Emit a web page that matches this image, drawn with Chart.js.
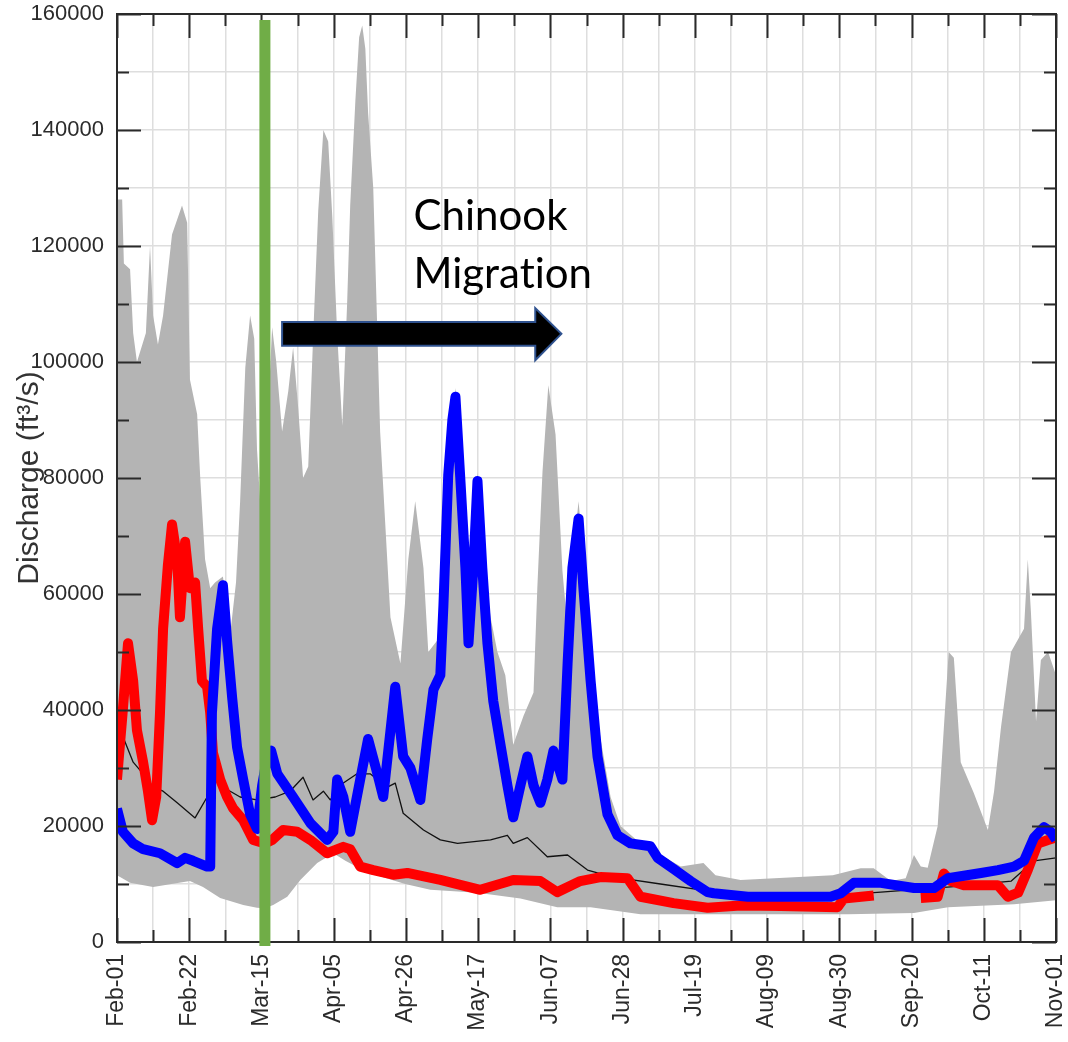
<!DOCTYPE html>
<html>
<head>
<meta charset="utf-8">
<script src="https://cdn.jsdelivr.net/npm/chart.js@4.4.1/dist/chart.umd.min.js"></script>
<style>
  html, body { margin: 0; padding: 0; background: #fff; }
</style>
</head>
<body>
<canvas id="c" width="1068" height="1042"></canvas>
<script>
// x values are days since Feb-01, flows in ft3/s
const dateLabels = ['Feb-01', 'Feb-22', 'Mar-15', 'Apr-05', 'Apr-26', 'May-17', 'Jun-07',
                    'Jun-28', 'Jul-19', 'Aug-09', 'Aug-30', 'Sep-20', 'Oct-11', 'Nov-01'];

const maxDays = [0, 1.5, 2, 3.8, 4.7, 5.8, 8.4, 9.6, 10.5, 11.9,
  13.4, 16, 18.9, 20.4, 21.2, 23.3, 24.2, 25.6, 27.1, 28.5,
  30.8, 32.9, 34.6, 35.8, 37.3, 38.7, 39.9, 40.7, 42.2, 45.1,
  46.3, 48, 49.8, 51.2, 52.7, 54.1, 55.6, 57, 58.5, 60,
  61.4, 62.6, 64, 65.5, 66.9, 67.8, 69.3, 70.4, 71.3, 72.2,
  73, 74.5, 75.7, 76.5, 78, 79.5, 82.4, 84.7, 86.7, 89.1,
  90.5, 93.1, 94.9, 96.3, 97.5, 98.4, 99.8, 101.3, 102.7, 104.8,
  106.2, 108.6, 110.6, 112.9, 115.2, 118.2, 121.1, 122.2, 123.7, 125.4,
  127.5, 129.5, 131, 132.4, 134.2, 136.2, 138.2, 140.6, 143.5, 146.4,
  152.2, 158, 163.9, 170.5, 174, 181.3, 208.1, 216.2, 220, 225,
  229.3, 231.7, 233.7, 235.7, 238.6, 240.4, 241.8, 243.3, 245.3, 249.1,
  253.2, 255, 257, 259.9, 263.7, 264.8, 265.7, 267.2, 268.6, 270.7, 273];
const maxFlow = [128000, 128000, 117000, 116000, 105000, 100000, 105000, 120000, 108000, 103000,
  108000, 122000, 127000, 124000, 97000, 91000, 80000, 66000, 61000, 62000,
  63000, 53000, 62000, 76000, 99000, 108000, 104000, 85000, 70000, 106000,
  100000, 88000, 95000, 102500, 92000, 80000, 82000, 104000, 126000, 140000,
  138000, 125000, 105000, 89000, 110000, 127000, 145000, 156000, 158000, 154000,
  143000, 130000, 105000, 88000, 72000, 56000, 48000, 66000, 76000, 64500,
  50000, 52000, 62000, 82000, 91000, 95500, 82000, 66000, 62000, 81000,
  68000, 56000, 50000, 46000, 34000, 39000, 43000, 61000, 81000, 96000,
  87500, 64000, 54000, 66000, 76000, 62000, 46000, 35000, 25000, 20000,
  17000, 15000, 13000, 13600, 11500, 10700, 11500, 12700, 12700, 10500,
  11000, 15000, 13000, 12800, 20000, 37000, 50000, 49000, 31000, 25700,
  19300, 26000, 37000, 50000, 54000, 66000, 57000, 38000, 48600, 50000, 46000];

const minDays = [0, 3.8, 10.5, 21.2, 25, 30, 36.7, 40.7, 43, 45.4,
  49.5, 53.3, 58.2, 62.9, 66.4, 72.8, 83.8, 91.1, 104.8, 117.3,
  128, 137.7, 152.2, 175.5, 212.5, 231.7, 241.6, 260.8, 273];
const minFlow = [11500, 10200, 9500, 10500, 9500, 7600, 6400, 5900, 5800, 6400,
  7800, 10700, 13600, 15300, 14000, 12000, 10000, 9000, 8500, 7500,
  6000, 6000, 4800, 4800, 4800, 5000, 6000, 6500, 7200];

const medianDays = [0, 2, 4.7, 7.6, 10.5, 13.4, 17.5, 22.7, 26.2, 27.9,
  31.4, 35.8, 40.7, 46, 50.3, 54.1, 57, 60, 62, 65.8,
  69.8, 73.6, 78.6, 80.9, 83.2, 89.1, 94, 99, 108.6, 113.5,
  115.2, 119.3, 125.1, 131, 136.8, 139.7, 146.4, 158, 169.7, 187.1,
  207.5, 222.1, 242.4, 260, 266.6, 273];
const medianFlow = [30000, 35000, 31000, 29000, 26700, 26000, 24000, 21400, 25000, 28400,
  26500, 25000, 24500, 25000, 26000, 28400, 24500, 26000, 24500, 27400,
  29000, 29000, 26700, 27400, 22200, 19300, 17600, 17000, 17600, 18400,
  17000, 18000, 14700, 15000, 12400, 11900, 11000, 10000, 9000, 8000,
  8000, 8600, 9500, 10500, 14000, 14500];

const redDays = [0, 1.7, 3.2, 4.7, 5.8, 7.6, 9, 10.2, 11.4, 12.5,
  13.4, 14.8, 16, 17.5, 18.3, 19.8, 21.2, 22.7, 23.6, 24.7,
  26.2, 27.1, 27.9, 30, 32, 33.8, 36.7, 39.6, 43, 45.1,
  48.3, 52.4, 56.2, 61.1, 65.8, 67.8, 70.7, 74.5, 80.3, 84.4,
  94, 105.6, 115.2, 123.1, 128, 134.7, 140.6, 148.4, 152.2, 161.8,
  171.7, 181.3, 193, 209.5, 211.3, 220, 226, 233.7, 238.6, 240.4,
  242.4, 246.2, 256.1, 259, 262, 264.8, 267.7, 270.7, 273];
const redFlow = [28000, 40000, 51500, 45000, 36500, 31000, 26000, 21000, 25000, 39500,
  54000, 65000, 72000, 66000, 56000, 69000, 61000, 62000, 54000, 45000,
  44000, 39500, 32600, 28000, 25000, 23000, 21000, 17600, 17000, 17600,
  19300, 19000, 17600, 15300, 16400, 16000, 13000, 12400, 11600, 11900,
  10700, 9000, 10700, 10500, 8600, 10500, 11200, 11000, 7800, 6700,
  5900, 6300, 6200, 6000, 7500, 8000, null, 7600, 7800, 11800,
  10500, 9800, 9800, 7800, 8500, 12400, 17000, 17600, 18000];

const blueDays = [0, 1.7, 4.7, 7.6, 12.5, 17.5, 19.8, 22.1, 26.2, 27.1,
  27.6, 29.1, 30.8, 32, 33.5, 34.9, 36.7, 38.7, 40.7, 42.2,
  43.4, 44.8, 46.6, 51.2, 56.2, 61.1, 62.9, 64, 65.8, 67.8,
  70.7, 73, 75.7, 77.4, 80.9, 83.2, 85.3, 88.2, 90.2, 92,
  94, 94.9, 96.3, 97.5, 98.4, 99.8, 101.3, 102.2, 103.6, 104.8,
  106.2, 107.7, 109.4, 111.5, 113.5, 115.2, 117.3, 119.3, 121.1, 123.1,
  125.1, 126.9, 129.5, 131, 132.4, 134.2, 135.6, 137.7, 139.7, 142.6,
  145.5, 149.3, 155.1, 157.2, 161.8, 166.8, 171.7, 173.5, 183.4, 207.5,
  210.4, 214.2, 222.1, 231.7, 237.5, 241.6, 251.2, 256.1, 260.8, 263.7,
  266.6, 269.5, 271.5, 273];
const blueFlow = [23000, 19000, 17000, 16000, 15300, 13600, 14500, 14000, 13000, 13000,
  39500, 54000, 61500, 52000, 42000, 33600, 28000, 22000, 19500, 27000,
  31000, 33000, 29000, 25000, 20500, 17600, 19000, 28000, 25000, 19000,
  28000, 35000, 29000, 25000, 44000, 32000, 30000, 24500, 35000, 43500,
  46000, 58000, 80500, 90000, 94000, 80000, 64500, 51500, 64500, 79500,
  64500, 51500, 41500, 34000, 27000, 21500, 27000, 32000, 27000, 24000,
  28000, 33000, 28000, 48000, 64500, 73000, 61000, 45000, 32000, 22000,
  18400, 17000, 16500, 14500, 12600, 10500, 8600, 8400, 7800, 7800,
  8400, 10200, 10200, 9300, 9300, 11000, 11900, 12400, 13000, 14000,
  18000, 19800, 19000, 17600];

function pairs(days, flows) {
    return days.map((d, i) => ({x: d, y: flows[i]}));
}

// annotation placement (in data units)
const greenDay = 43;
const arrow = {x0: 48, xHead: 121.6, xTip: 129.2, shaftTop: 106900, shaftBottom: 102800,
               headTop: 109300, headBottom: 100300};
const label = {x: 86.2, line1: 122800, line2: 112800};

const overlay = {
    id: 'overlay',
    afterDatasetsDraw(chart) {
        const {ctx, chartArea: a, scales} = chart;
        const xs = scales.x, ys = scales.y;
        ctx.save();

        // inward ticks on all four sides + frame
        ctx.strokeStyle = '#2a2a2a';
        ctx.lineWidth = 2;
        ctx.beginPath();
        ys.ticks.forEach(t => {
            const py = Math.round(ys.getPixelForValue(t.value)) + 0.5;
            const len = t.value % 20000 === 0 ? 24 : 12;
            ctx.moveTo(a.left, py); ctx.lineTo(a.left + len, py);
            ctx.moveTo(a.right, py); ctx.lineTo(a.right - len, py);
        });
        xs.ticks.forEach((t, i) => {
            const px = Math.round(xs.getPixelForValue(t.value)) + 0.5;
            const len = i % 2 === 0 ? 24 : 12;
            ctx.moveTo(px, a.top); ctx.lineTo(px, a.top + len);
            ctx.moveTo(px, a.bottom); ctx.lineTo(px, a.bottom - len);
        });
        ctx.stroke();
        ctx.strokeRect(a.left, a.top, a.right - a.left, a.bottom - a.top);

        // green marker
        const gx = xs.getPixelForValue(greenDay);
        ctx.fillStyle = '#70ad47';
        ctx.fillRect(gx - 5.5, a.top + 6, 11, a.bottom - a.top - 2);

        // migration arrow
        const X = v => xs.getPixelForValue(v), Y = v => ys.getPixelForValue(v);
        const midY = (Y(arrow.shaftTop) + Y(arrow.shaftBottom)) / 2;
        ctx.beginPath();
        ctx.moveTo(X(arrow.x0), Y(arrow.shaftTop));
        ctx.lineTo(X(arrow.xHead), Y(arrow.shaftTop));
        ctx.lineTo(X(arrow.xHead), Y(arrow.headTop));
        ctx.lineTo(X(arrow.xTip), midY);
        ctx.lineTo(X(arrow.xHead), Y(arrow.headBottom));
        ctx.lineTo(X(arrow.xHead), Y(arrow.shaftBottom));
        ctx.lineTo(X(arrow.x0), Y(arrow.shaftBottom));
        ctx.closePath();
        ctx.fillStyle = '#000';
        ctx.fill();
        ctx.strokeStyle = '#2f528f';
        ctx.lineWidth = 2;
        ctx.stroke();

        ctx.fillStyle = '#000';
        ctx.font = '42px Lato, "Open Sans", sans-serif';
        ctx.textAlign = 'left';
        ctx.textBaseline = 'alphabetic';
        ctx.fillText('Chinook', X(label.x), Y(label.line1));
        ctx.fillText('Migrat\u200Cion', X(label.x), Y(label.line2));
        ctx.restore();
    }
};

const lineStyle = {pointRadius: 0, tension: 0, fill: false, borderJoinStyle: 'round'};

new Chart(document.getElementById('c'), {
    type: 'line',
    data: {
        datasets: [
            Object.assign({label: 'blue', data: pairs(blueDays, blueFlow),
                borderColor: '#0000ff', borderWidth: 10}, lineStyle),
            Object.assign({label: 'red', data: pairs(redDays, redFlow),
                borderColor: '#ff0000', borderWidth: 10, spanGaps: false}, lineStyle),
            Object.assign({label: 'median', data: pairs(medianDays, medianFlow),
                borderColor: '#111', borderWidth: 1.3}, lineStyle),
            {label: 'max', data: pairs(maxDays, maxFlow), pointRadius: 0, tension: 0,
                borderWidth: 0, borderColor: 'rgba(0,0,0,0)', backgroundColor: '#b4b4b4', fill: '+1'},
            {label: 'min', data: pairs(minDays, minFlow), pointRadius: 0, tension: 0,
                borderWidth: 0, borderColor: 'rgba(0,0,0,0)', fill: false}
        ]
    },
    options: {
        responsive: false,
        animation: false,
        layout: {padding: {top: 14, right: 12, left: 0, bottom: 0}},
        plugins: {legend: {display: false}, tooltip: {enabled: false}},
        scales: {
            x: {
                type: 'linear',
                min: 0,
                max: 273,
                afterBuildTicks: scale => {
                    scale.ticks = [];
                    for (let i = 0; i <= 26; i++) scale.ticks.push({value: i * 10.5});
                },
                afterFit: scale => {
                    scale.height = 100;
                    scale.paddingLeft = 0;
                    scale.paddingRight = 0;
                },
                grid: {color: '#dedede', lineWidth: 1.5, drawTicks: false},
                border: {display: false},
                ticks: {
                    autoSkip: false,
                    minRotation: 90,
                    maxRotation: 90,
                    padding: 12,
                    color: '#2b2b2b',
                    font: {family: '"Liberation Sans", Arial, sans-serif', size: 23},
                    callback: (v, i) => i % 2 === 0 ? dateLabels[i / 2] : ''
                }
            },
            y: {
                min: 0,
                max: 160000,
                afterBuildTicks: scale => {
                    scale.ticks = [];
                    for (let v = 0; v <= 160000; v += 5000) scale.ticks.push({value: v});
                },
                afterFit: scale => {
                    scale.width = 117;
                    scale.paddingTop = 0;
                    scale.paddingBottom = 0;
                },
                grid: {color: '#dedede', lineWidth: 1.5, drawTicks: false},
                border: {display: false},
                ticks: {
                    padding: 13,
                    color: '#2b2b2b',
                    font: {family: '"Liberation Sans", Arial, sans-serif', size: 22},
                    callback: v => v % 20000 === 0 ? String(v) : ''
                },
                title: {
                    display: true,
                    text: 'Discharge (ft³/s)',
                    color: '#333',
                    font: {family: '"Liberation Sans", Arial, sans-serif', size: 30},
                    padding: {top: 12, bottom: 0}
                }
            }
        }
    },
    plugins: [overlay]
});
</script>
</body>
</html>
